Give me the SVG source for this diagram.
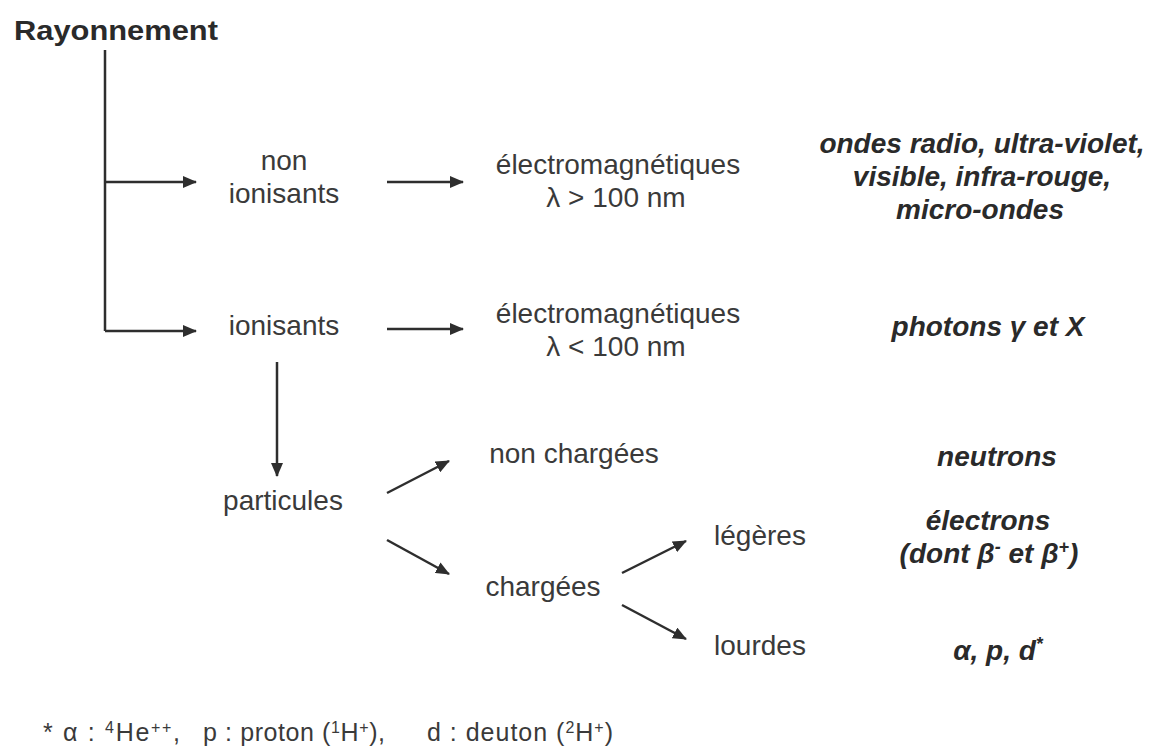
<svg xmlns="http://www.w3.org/2000/svg" width="1154" height="749" viewBox="0 0 1154 749">
<style>
.t{font-family:"Liberation Sans",Arial,sans-serif;font-size:28px;fill:#3a3a3a;text-anchor:middle}
.b{font-family:"Liberation Sans",Arial,sans-serif;font-size:28px;font-weight:bold;font-style:italic;fill:#2a2a2a;text-anchor:middle}
.h{font-family:"Liberation Sans",Arial,sans-serif;font-size:27px;font-weight:bold;fill:#2a2a2a}
.f{font-family:"Liberation Sans",Arial,sans-serif;font-size:25px;fill:#3a3a3a}
.s{font-size:16px}
.c{stroke:#2e2e2e;stroke-width:2.5;fill:none}
.a{marker-end:url(#ah)}
</style>
<defs>
<marker id="ah" viewBox="0 0 14 12" refX="13" refY="6" markerWidth="14" markerHeight="12" markerUnits="userSpaceOnUse" orient="auto">
<path d="M0,0 L14,6 L0,12 z" fill="#2e2e2e"/>
</marker>
</defs>
<rect width="1154" height="749" fill="#ffffff"/>
<g id="connectors">
<path class="c" d="M105,50 V331"/>
<path class="c a" d="M105,182 H196"/>
<path class="c a" d="M105,331 H196"/>
<path class="c a" d="M387,182 H463"/>
<path class="c a" d="M387,329 H463"/>
<path class="c a" d="M277,362 V476"/>
<path class="c a" d="M387,493 L449,461"/>
<path class="c a" d="M387,540 L449,574"/>
<path class="c a" d="M622,573 L686,541"/>
<path class="c a" d="M622,605 L686,639"/>
</g>
<g id="rayonnement"><text class="h" x="14" y="40" textLength="204" lengthAdjust="spacingAndGlyphs">Rayonnement</text></g>
<g id="non-ionisants"><text class="t" x="284" y="170">non</text><text class="t" x="284" y="203">ionisants</text></g>
<g id="ionisants"><text class="t" x="284" y="335">ionisants</text></g>
<g id="em-sup"><text class="t" x="618" y="174">électromagnétiques</text><text class="t" x="616" y="207">λ &gt; 100 nm</text></g>
<g id="em-inf"><text class="t" x="618" y="323">électromagnétiques</text><text class="t" x="616" y="356">λ &lt; 100 nm</text></g>
<g id="ex-non-ionisants"><text class="b" x="982" y="153">ondes radio, ultra-violet,</text><text class="b" x="982" y="186">visible, infra-rouge,</text><text class="b" x="980" y="219">micro-ondes</text></g>
<g id="photons"><text class="b" x="988" y="336">photons γ et X</text></g>
<g id="particules"><text class="t" x="283" y="510">particules</text></g>
<g id="non-chargees"><text class="t" x="574" y="463">non chargées</text></g>
<g id="neutrons"><text class="b" x="997" y="466">neutrons</text></g>
<g id="chargees"><text class="t" x="543" y="596">chargées</text></g>
<g id="legeres"><text class="t" x="760" y="545">légères</text></g>
<g id="electrons"><text class="b" x="988" y="530">électrons</text><text class="b" x="989" y="563">(dont β<tspan font-size="18" baseline-shift="super">-</tspan> et β<tspan font-size="18" baseline-shift="super">+</tspan>)</text></g>
<g id="lourdes"><text class="t" x="760" y="655">lourdes</text></g>
<g id="alpha"><text class="b" x="998" y="660">α, p, d<tspan font-size="18" baseline-shift="super">*</tspan></text></g>
<g id="footnote">
<text class="f" x="43" y="741" textLength="137" lengthAdjust="spacing">* α : <tspan class="s" baseline-shift="super">4</tspan>He<tspan class="s" baseline-shift="super">++</tspan>,</text>
<text class="f" x="203" y="741" textLength="182" lengthAdjust="spacing">p : proton (<tspan class="s" baseline-shift="super">1</tspan>H<tspan class="s" baseline-shift="super">+</tspan>),</text>
<text class="f" x="427" y="741" textLength="186" lengthAdjust="spacing">d : deuton (<tspan class="s" baseline-shift="super">2</tspan>H<tspan class="s" baseline-shift="super">+</tspan>)</text>
</g>
</svg>
